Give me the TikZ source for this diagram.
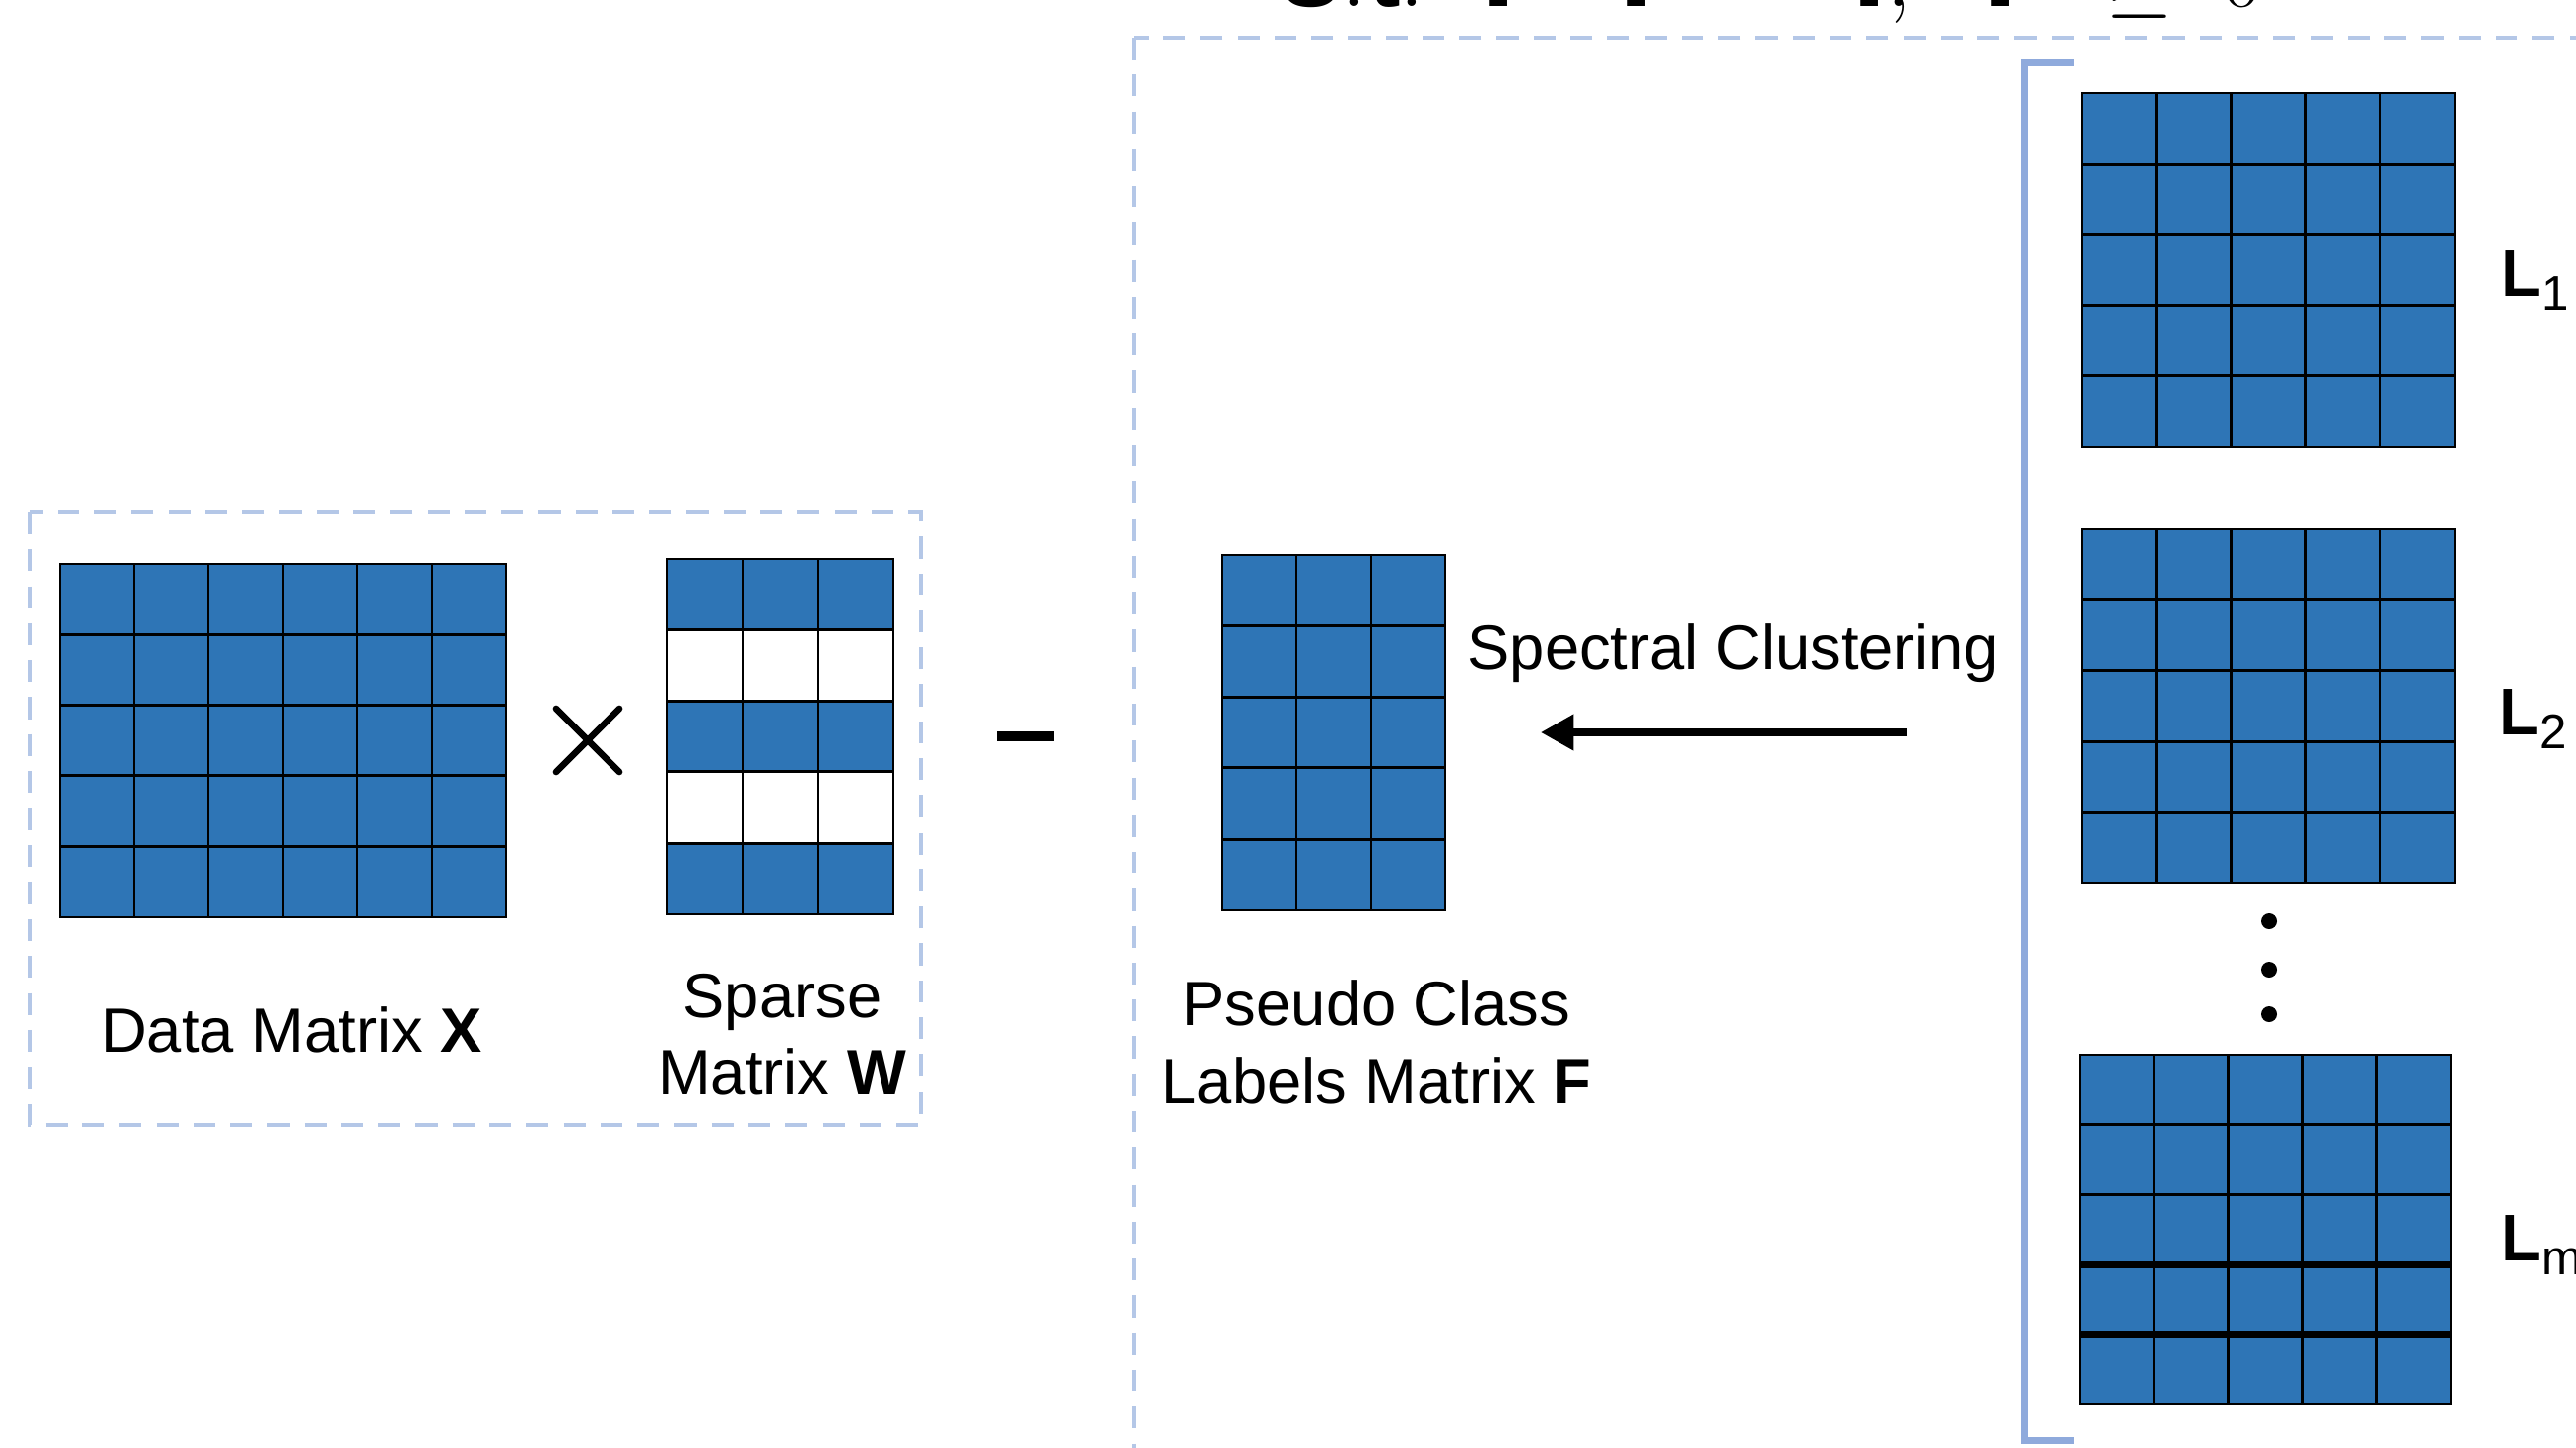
\documentclass[tikz,border=0pt]{standalone}
\usepackage{fontspec}
\setmainfont{Liberation Sans}
\usetikzlibrary{arrows.meta, positioning, calc}
\definecolor{cellblue}{HTML}{2E75B6}
\definecolor{dashblue}{HTML}{B4C7E7}
\definecolor{brkblue}{HTML}{8FAADC}

\tikzset{
  cell/.style={draw=black, line width=0.75pt, fill=cellblue},
  blank/.style={draw=black, line width=0.75pt, fill=white},
  groupbox/.style={draw=dashblue, line width=1.2pt, dash pattern=on 6.3pt off 4.3pt},
  lbl/.style={font=\fontsize{18}{22}\selectfont, align=center, inner sep=0pt},
  llbl/.style={font=\fontsize{19}{22}\selectfont, inner sep=0pt},
}

\begin{document}
\begin{tikzpicture}[
  x=0.01cm, y=-0.01cm,
  >={Triangle[length=9.5pt, width=10pt]},
]

\useasboundingbox (0,0) rectangle (2595,1458);
\clip (0,0) rectangle (2595,1458);

% Constraint (cut by the top edge)
\node[anchor=base west, inner sep=0pt, font=\fontsize{35}{38}\selectfont] (cons) at (1290,7)
  {$\mathrm{s.t.}\;\ \mathbf{F}^{T}\mathbf{F}\;=\;\mathbf{I},\;\ \mathbf{F}\;\geq\;0$};

% Dashed group boxes
\draw[groupbox] (30,516) rectangle (928,1134);
\draw[groupbox] (1142,38) rectangle (2700,1600);

% =============================================
% Full matrices: name/left/top/cols/rows/cell w/cell h
% =============================================
\foreach \nm/\xa/\ya/\nc/\nr/\cw/\ch in {X/60/568/6/5/75/71.2, F/1231/559/3/5/75/71.6,
    L1/2097/94/5/5/75.2/71.2, L2/2097/533/5/5/75.2/71.4, Lm/2095/1063/5/5/74.8/70.4} {
  \foreach \c in {1,...,\nc} {
    \foreach \r in {1,...,\nr} {
      \draw[cell] ({\xa+(\c-1)*\cw},{\ya+(\r-1)*\ch}) rectangle ++(\cw,\ch);
    }
  }
  \coordinate (\nm) at ({\xa+\nc*\cw/2},{\ya+\nr*\ch/2});
}

% Sparse matrix W
\foreach \r/\st in {1/cell, 2/blank, 3/cell, 4/blank, 5/cell} {
  \foreach \c in {1,2,3} {
    \draw[\st] ({672+(\c-1)*76},{563+(\r-1)*71.6}) rectangle ++(76,71.6);
  }
}
\coordinate (W) at (786,742);

% Heavier row rules in L_m
\foreach \r in {3,4} {
  \draw[line width=2pt] (2095,{1063+\r*70.4}) -- ++(374,0);
}

% =============================================
% Operators
% =============================================
\coordinate (times) at (592,746);
\draw[line width=1.9pt, line cap=round] ($(times)+(-32,-32)$) -- ($(times)+(32,32)$);
\draw[line width=1.9pt, line cap=round] ($(times)+(32,-32)$) -- ($(times)+(-32,32)$);

\coordinate (minus) at (1033,742);
\draw[line width=2.6pt] ($(minus)+(-29,0)$) -- ($(minus)+(29,0)$);

% Vertical dots between L_2 and L_m
\foreach \y in {928,977,1022} {
  \fill (2286,\y) circle (0.08cm);
}

% Bracket round the L matrices
\draw[brkblue, line width=2pt] (2089,63) -- (2039,63) -- (2039,1451) -- (2089,1451);

% Spectral clustering arrow
\coordinate (scfrom) at (1921,738);
\coordinate (scto) at (1552,738);
\draw[->, line width=2pt] (scfrom) -- (scto);

% =============================================
% Labels
% =============================================
\node[lbl, anchor=base] (Xlab) at (294,1060) {Data Matrix \textbf{X}};
\node[lbl] (Wlab) at (788,1042) {Sparse\\Matrix \textbf{W}};
\node[lbl] (Flab) at (1387,1050) {Pseudo Class\\Labels Matrix \textbf{F}};
\node[lbl, anchor=base west] (sclab) at (1478,674) {Spectral Clustering};

\node[llbl, anchor=base west] (L1lab) at (2519,298)
  {\textbf{L}\raisebox{-4pt}{\fontsize{14}{14}\selectfont 1}};
\node[llbl, anchor=base west] (L2lab) at (2517,740)
  {\textbf{L}\raisebox{-4pt}{\fontsize{14}{14}\selectfont 2}};
\node[llbl, anchor=base west] (Lmlab) at (2519,1270)
  {\textbf{L}\raisebox{-4pt}{\fontsize{14}{14}\selectfont m}};

\end{tikzpicture}
\end{document}
